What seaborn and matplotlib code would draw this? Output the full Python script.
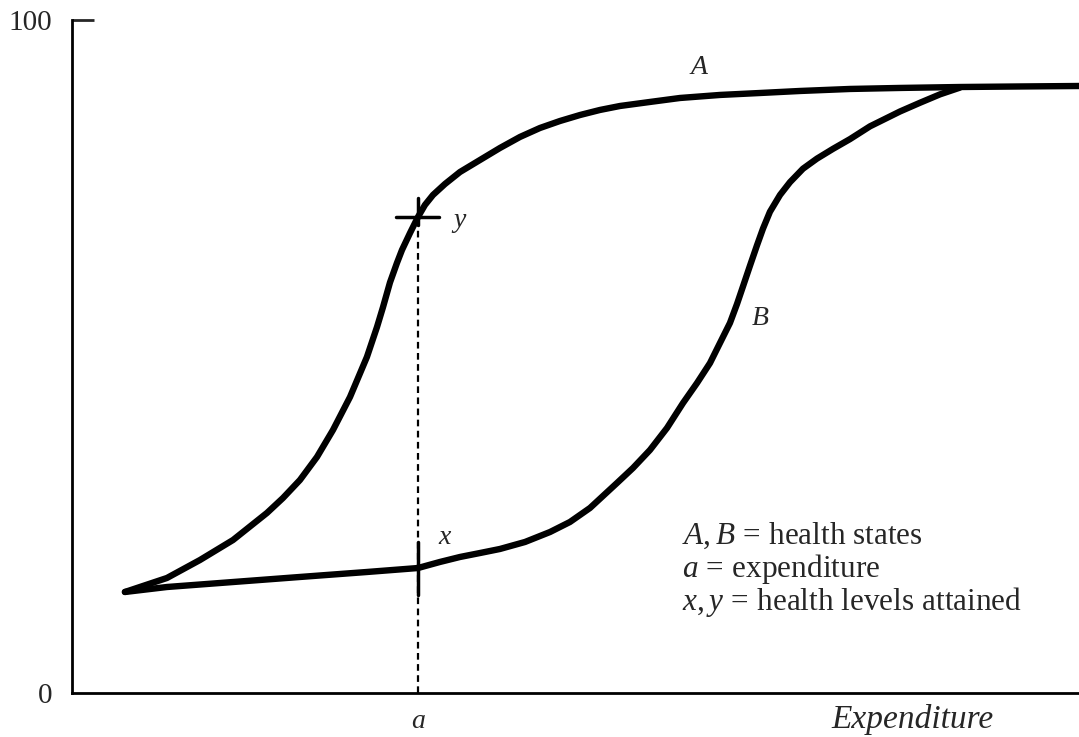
import matplotlib
matplotlib.use("Agg")
import matplotlib.pyplot as plt
import seaborn as sns

# curve A: health state A (expenditure 0-100, health 0-100)
a_x = [5.26, 9.43, 12.71, 15.99, 19.36, 20.95, 22.64, 24.33, 25.92, 27.61,
       29.29, 30.29, 30.88, 31.58, 32.27, 32.77, 33.57, 34.36, 35.05, 35.85,
       37.04, 38.53, 40.52, 42.50, 44.49, 46.47, 48.46, 50.45, 52.43, 54.42,
       57.40, 60.38, 64.35, 68.32, 72.29, 77.26, 82.22, 88.18, 94.14, 100.0]
a_y = [15.01, 17.09, 19.76, 22.73, 26.75, 28.97, 31.65, 35.07, 39.08, 43.98,
       49.93, 54.38, 57.30, 61.00, 63.89, 65.82, 68.35, 70.73, 72.51, 74.00,
       75.63, 77.41, 79.20, 80.98, 82.62, 83.95, 84.99, 85.88, 86.63, 87.22,
       87.82, 88.41, 88.86, 89.15, 89.45, 89.75, 89.90, 90.04, 90.12, 90.19]

# curve B: health state B
b_x = [5.26, 9.43, 15.99, 22.64, 29.29, 34.36, 36.54, 38.53, 40.52, 42.50,
       44.99, 47.47, 49.45, 51.44, 54.12, 55.71, 57.40, 59.09, 60.68, 62.07,
       63.36, 64.35, 65.34, 66.04, 66.63, 67.33, 68.02, 68.62, 69.31, 70.31,
       71.30, 72.59, 73.98, 75.57, 77.26, 79.25, 82.22, 84.21, 86.20, 88.18]
b_y = [15.01, 15.75, 16.49, 17.24, 17.98, 18.57, 19.47, 20.21, 20.80, 21.40,
       22.44, 23.92, 25.41, 27.49, 31.20, 33.43, 36.11, 39.38, 43.09, 46.06,
       49.03, 52.01, 54.98, 57.80, 60.40, 63.50, 66.50, 69.00, 71.50, 74.00,
       75.90, 77.90, 79.40, 80.85, 82.30, 84.20, 86.40, 87.70, 88.95, 89.95]

# expenditure level a and attained health levels x, y
a_level = 34.36
x_level = 18.57
y_level = 70.73

legend_lines = [r"$\mathit{A,B}$$\,=\,$health states",
                r"$\mathit{a}$$\,=\,$expenditure",
                r"$\mathit{x,y}$$\,=\,$health levels attained"]

sns.set_style("white")
plt.rcParams["font.family"] = ["Liberation Serif", "DejaVu Serif"]
plt.rcParams["mathtext.fontset"] = "custom"
plt.rcParams["mathtext.rm"] = "Liberation Serif"
plt.rcParams["mathtext.it"] = "Liberation Serif:italic"

fig = plt.figure(figsize=(10.79, 7.37), dpi=100)
ax = fig.add_axes([0.0667, 0.0597, 0.9333, 0.9132])

sns.lineplot(x=a_x, y=a_y, sort=False, color="black", lw=4.6, ax=ax,
             solid_joinstyle="round", solid_capstyle="round")
sns.lineplot(x=b_x, y=b_y, sort=False, color="black", lw=4.6, ax=ax,
             solid_joinstyle="round", solid_capstyle="round")

# dashed drop line at a and the marks at x and y
ax.plot([a_level, a_level], [0, y_level], color="black", lw=1.6, ls=(0, (3, 2)))
ax.plot([a_level - 2.2, a_level + 2.1], [y_level, y_level], color="black", lw=2.5)
ax.plot([a_level, a_level], [y_level - 1.2, y_level + 2.8], color="black", lw=2.5)
ax.plot([a_level, a_level], [x_level - 4.0, x_level + 3.8], color="black", lw=2.5)

ax.set_xlim(0, 100)
ax.set_ylim(0, 100)
ax.set_yticks([0, 100])
ax.set_yticklabels(["0", "100"], fontsize=21)
ax.set_xticks([])
ax.tick_params(axis="y", left=True, direction="in", length=16, width=2, pad=14)
ax.yaxis.get_major_ticks()[0].tick1line.set_visible(False)
for side in ["top", "right"]:
    ax.spines[side].set_visible(False)
for side in ["left", "bottom"]:
    ax.spines[side].set_linewidth(2)
    ax.spines[side].set_color("black")

# curve and point labels
ax.text(62.3, 93.0, "A", style="italic", fontsize=20, ha="center", va="center")
ax.text(68.3, 55.7, "B", style="italic", fontsize=20, ha="center", va="center")
ax.text(38.5, 70.2, "y", style="italic", fontsize=20, ha="center", va="center")
ax.text(37.0, 23.1, "x", style="italic", fontsize=20, ha="center", va="center")
ax.text(a_level, -4.3, "a", style="italic", fontsize=20, ha="center", va="center",
        clip_on=False)
ax.text(83.5, -4.0, "Expenditure", style="italic", fontsize=24, ha="center",
        va="center", clip_on=False)

for i, line in enumerate(legend_lines):
    ax.text(60.6, 23.3 - i * 4.9, line, fontsize=22.5, ha="left", va="center")

fig.savefig("out.png", dpi=100)
